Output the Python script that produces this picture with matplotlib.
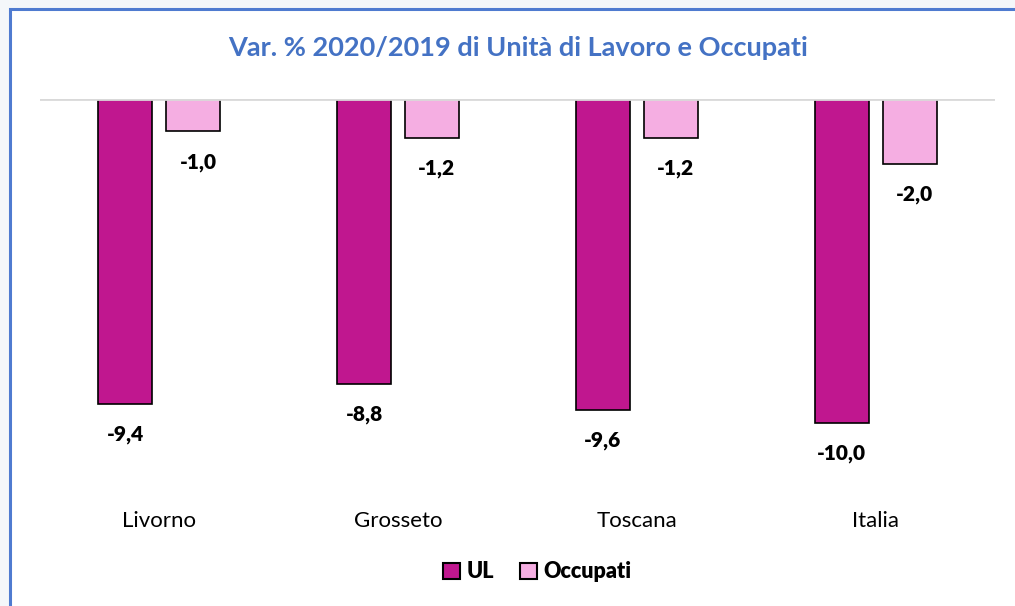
import numpy as np
from matplotlib import pyplot as plt
from matplotlib.patches import Rectangle

categories = ["Livorno", "Grosseto", "Toscana", "Italia"]
ul = [-9.4, -8.8, -9.6, -10.0]
occupati = [-1.0, -1.2, -1.2, -2.0]
series_names = ["UL", "Occupati"]
title = "Var. % 2020/2019 di Unità di Lavoro e Occupati"

col_ul = "#C0178F"
col_occ = "#F5AEE2"

plt.rcParams['font.family'] = ['Lato', 'DejaVu Sans']

fig = plt.figure(figsize=(10.15, 6.06), dpi=100)
fig.patch.set_facecolor("#F4F7FA")

# white chart area with blue frame
frame = Rectangle((10 / 1015, -0.01), 1.1, 1 - 9 / 606 + 0.01, transform=fig.transFigure,
                  facecolor="white", edgecolor="#4F7BD0", linewidth=2.2, zorder=-5)
fig.patches.append(frame)

ax = fig.add_axes([40 / 1015, 1 - 504 / 606, 955 / 1015, 405 / 606])
ax.set_facecolor("none")
ax.set_zorder(2)

x = np.arange(len(categories))
w = 0.226
off = 0.142
ax.bar(x - off, ul, w, color=col_ul, edgecolor="black", linewidth=1.2, label=series_names[0])
ax.bar(x + off, occupati, w, color=col_occ, edgecolor="black", linewidth=1.2, label=series_names[1])

for i in range(len(categories)):
    ax.text(x[i] - off, ul[i] - 0.95, f"{ul[i]:.1f}".replace(".", ","),
            ha="center", va="center", fontsize=15, fontweight="heavy")
    ax.text(x[i] + off + 0.02, occupati[i] - 0.95, f"{occupati[i]:.1f}".replace(".", ","),
            ha="center", va="center", fontsize=15, fontweight="heavy")

ax.axhline(0, color="#D9D9D9", linewidth=2, zorder=3)
ax.set_xlim(-0.5, 3.5)
ax.set_ylim(-12.5, 0)
ax.set_yticks([])
ax.set_xticks(x)
ax.set_xticklabels(categories, fontsize=16)
ax.tick_params(axis="x", length=0, pad=5)
for s in ax.spines.values():
    s.set_visible(False)

fig.text(0.51, 1 - 48 / 606, title, ha="center", va="center", fontsize=19.5,
         fontweight="bold", color="#4472C4")

handles = [Rectangle((0, 0), 1, 1, facecolor=col_ul, edgecolor="black", linewidth=1.5),
           Rectangle((0, 0), 1, 1, facecolor=col_occ, edgecolor="black", linewidth=1.5)]
fig.legend(handles, series_names, loc="center", bbox_to_anchor=(0.529, 1 - 572 / 606),
           ncol=2, frameon=False, prop={"weight": "heavy", "size": 15.5},
           handlelength=0.8, handleheight=0.8, handletextpad=0.3, columnspacing=1.2)

fig.savefig("out.png", dpi=100, facecolor=fig.get_facecolor())
